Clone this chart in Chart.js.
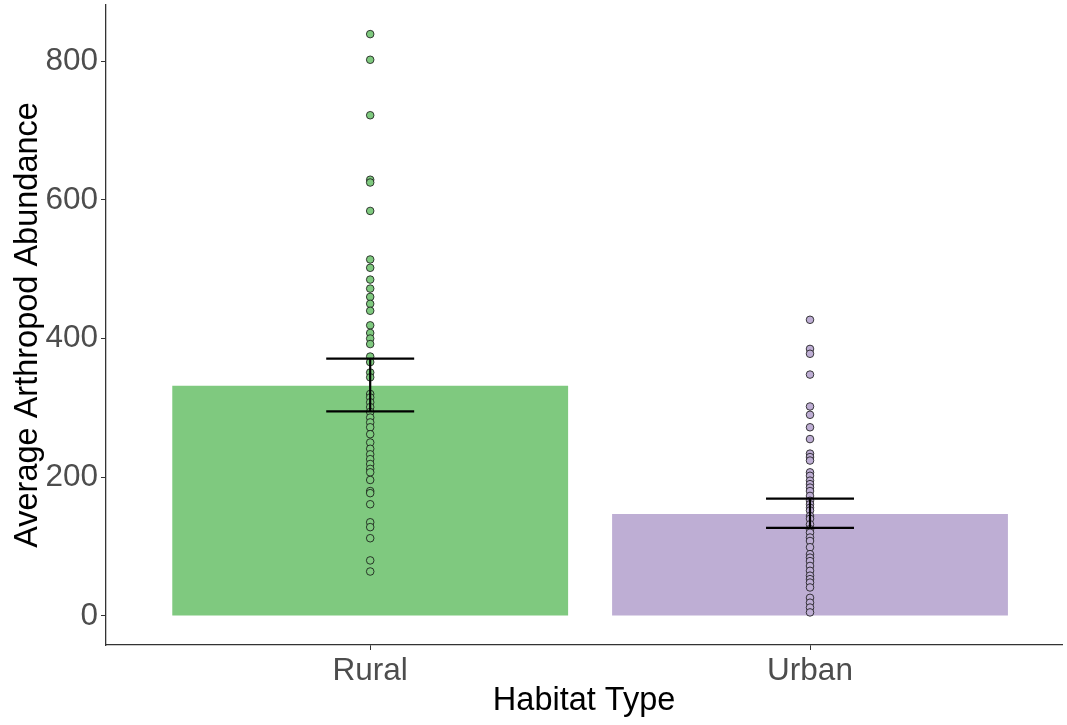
<!DOCTYPE html>
<html>
<head>
<meta charset="utf-8">
<script src="https://cdn.jsdelivr.net/npm/chart.js@4.4.1/dist/chart.umd.min.js"></script>
<style>
  html, body { margin: 0; padding: 0; background: #fff; overflow: hidden; }
  #wrap { width: 1067px; height: 725px; }
</style>
</head>
<body>
<div id="wrap"><canvas id="chart" width="1067" height="725"></canvas></div>
<script>
/* ── Datos ── */
const categories = ['Rural', 'Urban'];
const meanVals   = [332, 147];
const seLow      = [295, 127];
const seHigh     = [371, 169];
const yTicks     = [0, 200, 400, 600, 800];

const ruralPts = [839, 802, 722, 629, 625, 584, 514, 502, 485, 472, 460, 450, 440,
  419, 408, 400, 392, 374, 366, 351, 344, 320, 315, 308, 301, 294, 286, 279, 272,
  262, 250, 241, 233, 226, 219, 212, 207, 196, 180, 177, 161, 135, 128, 112, 80, 64];
const urbanPts = [427, 385, 378, 348, 302, 290, 272, 255, 234, 229, 224, 207, 202,
  195, 190, 185, 180, 173, 166, 161, 156, 152, 144, 140, 132, 125, 120, 113, 108,
  99, 89, 84, 79, 72, 65, 58, 53, 48, 41, 26, 19, 12, 5];

const fills = ['#7FC97F', '#BEAED4'];
const FONT  = '"Liberation Sans", Arial, sans-serif';

// ── Datasets ──
const datasets = [];

datasets.push({
  type: 'bar',
  data: meanVals.map((v, i) => ({ x: i + 1, y: v })),
  backgroundColor: fills,
  borderWidth: 0,
  categoryPercentage: 1,
  barPercentage: 0.9,
  order: 3,
});

[ruralPts, urbanPts].forEach((pts, i) => {
  datasets.push({
    type: 'scatter',
    data: pts.map(v => ({ x: i + 1, y: v })),
    pointRadius: 3.8,
    pointBackgroundColor: fills[i],
    pointBorderColor: '#111',
    pointBorderWidth: 0.8,
    order: 2,
  });
});

// barras de error: tapa superior, tapa inferior, tallo
categories.forEach((c, i) => {
  const x = i + 1;
  const segs = [
    [{ x: x - 0.1, y: seHigh[i] }, { x: x + 0.1, y: seHigh[i] }],
    [{ x: x - 0.1, y: seLow[i] },  { x: x + 0.1, y: seLow[i] }],
    [{ x: x, y: seLow[i] },        { x: x, y: seHigh[i] }],
  ];
  segs.forEach(s => datasets.push({
    type: 'line',
    data: s,
    borderColor: '#000',
    borderWidth: 2.2,
    pointRadius: 0,
    order: 1,
  }));
});

new Chart(document.getElementById('chart').getContext('2d'), {
  data: { datasets },
  options: {
    responsive: false,
    animation: false,
    layout: { padding: { top: 5, right: 0, left: 0, bottom: 0 } },
    plugins: { legend: { display: false }, tooltip: { enabled: false } },
    scales: {
      x: {
        type: 'linear',
        offset: false,
        min: 0.3993,
        max: 2.5734,
        afterBuildTicks: s => { s.ticks = categories.map((_, i) => ({ value: i + 1 })); },
        afterFit: s => { s.height = 80; s.paddingLeft = 0; s.paddingRight = 0; },
        ticks: {
          callback: v => categories[v - 1] ?? '',
          font: { family: FONT, size: 31.5 },
          color: '#4D4D4D',
          padding: 2,
          maxRotation: 0,
        },
        grid: { offset: false, drawOnChartArea: false, drawTicks: true, tickLength: 5, color: '#333', lineWidth: 1 },
        border: { display: true, color: '#333', width: 1.3 },
        title: {
          display: true,
          text: 'Habitat Type',
          font: { family: FONT, size: 32.5 },
          color: '#000',
          padding: { top: 0, bottom: 4 },
        },
      },
      y: {
        min: -42,
        max: 881,
        afterBuildTicks: s => { s.ticks = yTicks.map(v => ({ value: v })); },
        afterFit: s => { s.width = 106; s.paddingTop = 0; s.paddingBottom = 0; },
        ticks: {
          font: { family: FONT, size: 31.5 },
          color: '#4D4D4D',
          padding: 3,
        },
        grid: { drawOnChartArea: false, drawTicks: true, tickLength: 5, color: '#333', lineWidth: 1 },
        border: { display: true, color: '#333', width: 1.3 },
        title: {
          display: true,
          text: 'Average Arthropod Abundance',
          font: { family: FONT, size: 32.5 },
          color: '#000',
          padding: { top: 9, bottom: 0 },
        },
      },
    },
  },
});
</script>
</body>
</html>
